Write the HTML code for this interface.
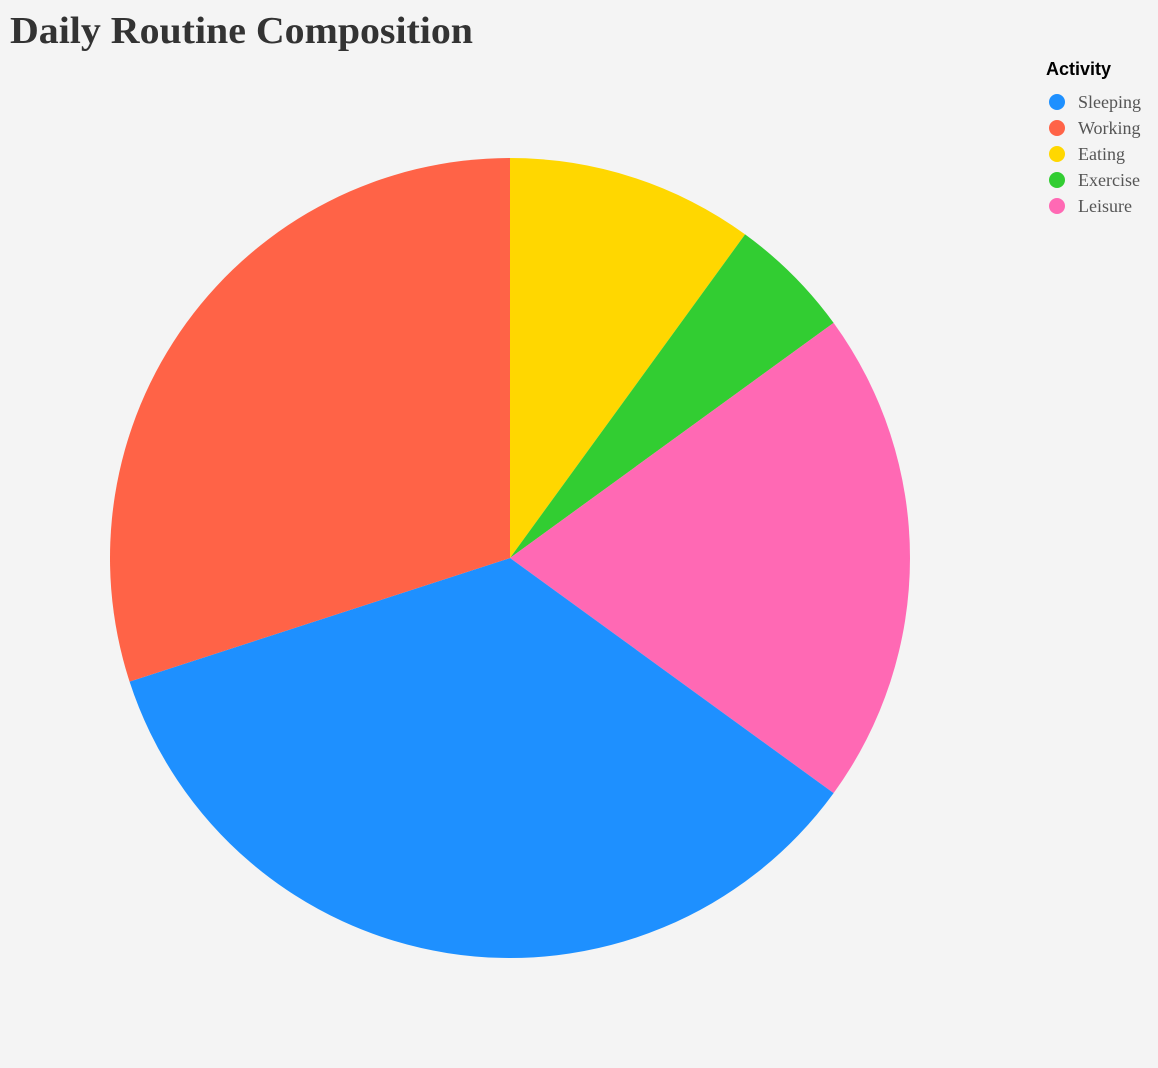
<!DOCTYPE html>
<html><head><meta charset="utf-8"><style>
html,body{margin:0;padding:0;background:#f4f4f4;}
svg{display:block;}
</style></head><body>
<svg id="chart" width="1158" height="1068">
<rect width="1158" height="1068" fill="#f4f4f4"/>
<text x="10" y="43" font-family="Liberation Serif, serif" font-weight="bold" font-size="38" textLength="463" lengthAdjust="spacingAndGlyphs" fill="#333">Daily Routine Composition</text>
<g id="slices"></g>
<g id="legend">
<text x="1046" y="75" font-family="Liberation Sans, sans-serif" font-weight="bold" font-size="18" fill="#000">Activity</text>
</g>
</svg>
<script>
const categories = ["Eating","Exercise","Leisure","Sleeping","Working"];
const values = [10,5,20,35,30];
const colors = ["#ffd700","#32cd32","#ff69b4","#1e90ff","#ff6347"];
const legendOrder = ["Sleeping","Working","Eating","Exercise","Leisure"];
const NS="http://www.w3.org/2000/svg";
const cx=510, cy=558, r=400;
const total=values.reduce((a,b)=>a+b,0);
const g=document.getElementById('slices');
let a0=0;
function pt(a){return [cx+r*Math.sin(a), cy-r*Math.cos(a)];}
values.forEach((v,i)=>{
  const a1=a0+v/total*2*Math.PI;
  const p0=pt(a0), p1=pt(a1);
  const large=(a1-a0)>Math.PI?1:0;
  const p=document.createElementNS(NS,'path');
  p.setAttribute('d',`M${cx},${cy}L${p0[0]},${p0[1]}A${r},${r} 0 ${large} 1 ${p1[0]},${p1[1]}Z`);
  p.setAttribute('fill',colors[i]);
  
  
  g.appendChild(p);
  a0=a1;
});
const lg=document.getElementById('legend');
legendOrder.forEach((c,i)=>{
  const y=102+i*26;
  const ci=document.createElementNS(NS,'circle');
  ci.setAttribute('cx',1057);ci.setAttribute('cy',y);ci.setAttribute('r',8);
  ci.setAttribute('fill',colors[categories.indexOf(c)]);
  
  
  lg.appendChild(ci);
  const t=document.createElementNS(NS,'text');
  t.setAttribute('x',1078);t.setAttribute('y',y+6);
  t.setAttribute('font-family','Liberation Serif, serif');
  t.setAttribute('font-size','18');t.setAttribute('fill','#555');
  t.textContent=c;
  
  
  lg.appendChild(t);
});
</script>
</body></html>
